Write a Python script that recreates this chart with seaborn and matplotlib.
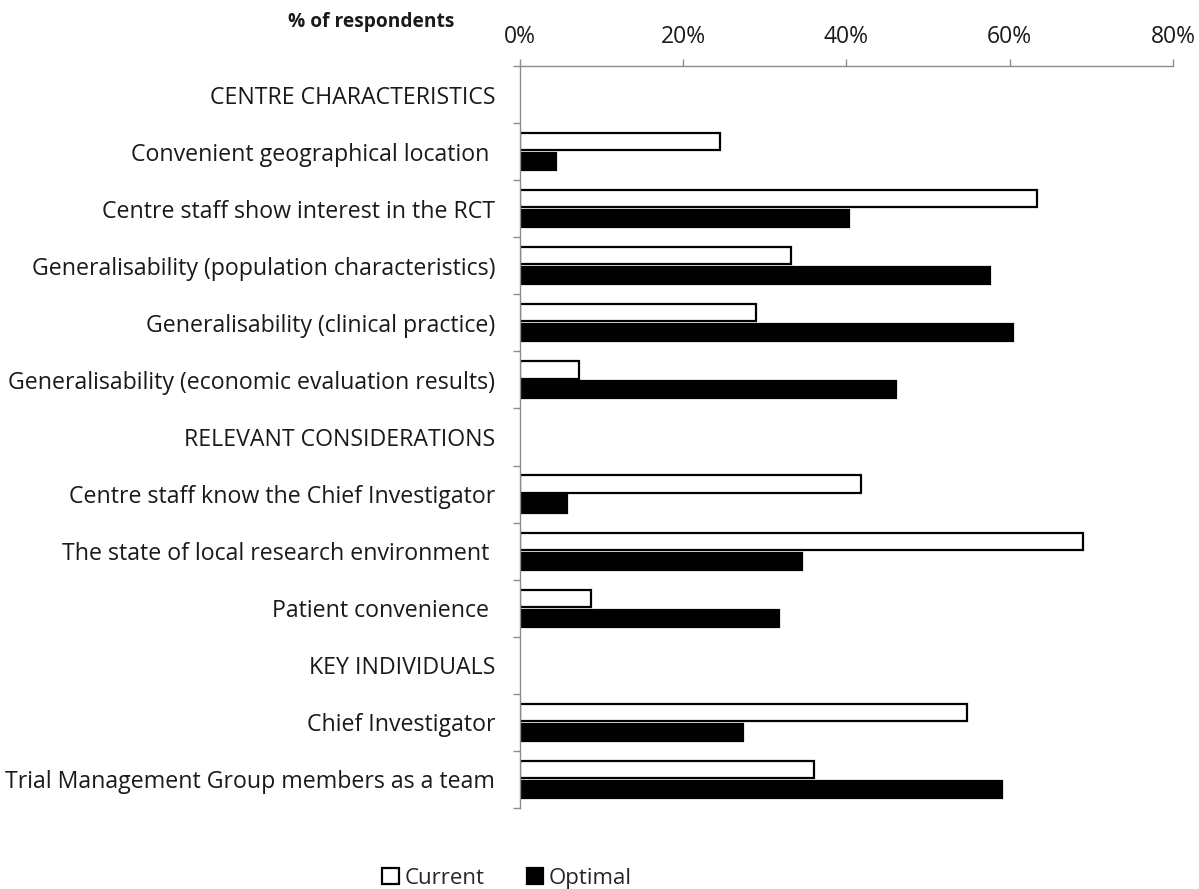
import pandas as pd
import numpy as np
import matplotlib
matplotlib.use('Agg')
import matplotlib.pyplot as plt
import seaborn as sns
from matplotlib.ticker import FixedLocator, PercentFormatter

# rows from top to bottom (header rows have no values)
categories = [
    'CENTRE CHARACTERISTICS',
    'Convenient geographical location ',
    'Centre staff show interest in the RCT',
    'Generalisability (population characteristics)',
    'Generalisability (clinical practice)',
    'Generalisability (economic evaluation results)',
    'RELEVANT CONSIDERATIONS',
    'Centre staff know the Chief Investigator',
    'The state of local research environment ',
    'Patient convenience ',
    'KEY INDIVIDUALS',
    'Chief Investigator',
    'Trial Management Group members as a team',
]
current = [np.nan, 24.5, 63.3, 33.2, 28.9, 7.2, np.nan, 41.8, 69.0, 8.7, np.nan, 54.8, 36.0]
optimal = [np.nan, 4.4, 40.3, 57.6, 60.4, 46.1, np.nan, 5.8, 34.5, 31.7, np.nan, 27.3, 59.0]
series = ['Current', 'Optimal']
x_ticks = [0, 20, 40, 60, 80]

df = pd.DataFrame({
    'category': categories * 2,
    'series': ['Current'] * len(categories) + ['Optimal'] * len(categories),
    'value': current + optimal,
})

sns.set_style('white')
plt.rcParams['font.family'] = ['Open Sans', 'DejaVu Sans']
axis_grey = '#8c8c8c'
text_col = '#1a1a1a'

fig = plt.figure(figsize=(11.99, 8.89), dpi=100)
ax = fig.add_axes([0.4337, 0.0911, 0.5446, 0.8347])

sns.barplot(data=df, x='value', y='category', hue='series', order=categories,
            hue_order=series, palette={'Current': 'white', 'Optimal': 'black'},
            orient='h', errorbar=None, width=0.7, gap=0.14,
            edgecolor='black', linewidth=1.6, ax=ax, legend=True)

ax.set_xlim(0, 80)
ax.set_ylim(len(categories) - 0.5, -0.5)
ax.xaxis.tick_top()
ax.set_xticks(x_ticks)
ax.xaxis.set_major_formatter(PercentFormatter(decimals=0))
ax.tick_params(axis='x', which='major', direction='out', length=5, width=1,
               color=axis_grey, pad=7, labelsize=16.5, labelcolor=text_col)
ax.set_xlabel('')
ax.set_ylabel('')

# category labels centred, ticks on row boundaries
ax.tick_params(axis='y', which='major', length=0, pad=18, labelsize=16.7,
               labelcolor=text_col)
ax.yaxis.set_minor_locator(FixedLocator(np.arange(-0.5, len(categories), 1.0)))
ax.tick_params(axis='y', which='minor', direction='out', length=5, width=1,
               color=axis_grey, left=True)

for side in ['right', 'bottom']:
    ax.spines[side].set_visible(False)
for side in ['left', 'top']:
    ax.spines[side].set_color(axis_grey)
    ax.spines[side].set_linewidth(1)

fig.text(0.3094, 0.975, '% of respondents', ha='center', va='center',
         fontsize=13.8, fontweight='bold', color=text_col)

handles, labels = ax.get_legend_handles_labels()
ax.get_legend().remove()
fig.legend(handles, labels, loc='center', bbox_to_anchor=(0.423, 0.012),
           ncol=2, frameon=False, fontsize=16, handlelength=0.75,
           handleheight=0.75, handletextpad=0.25, columnspacing=1.9)

fig.savefig('out.png', dpi=100)
